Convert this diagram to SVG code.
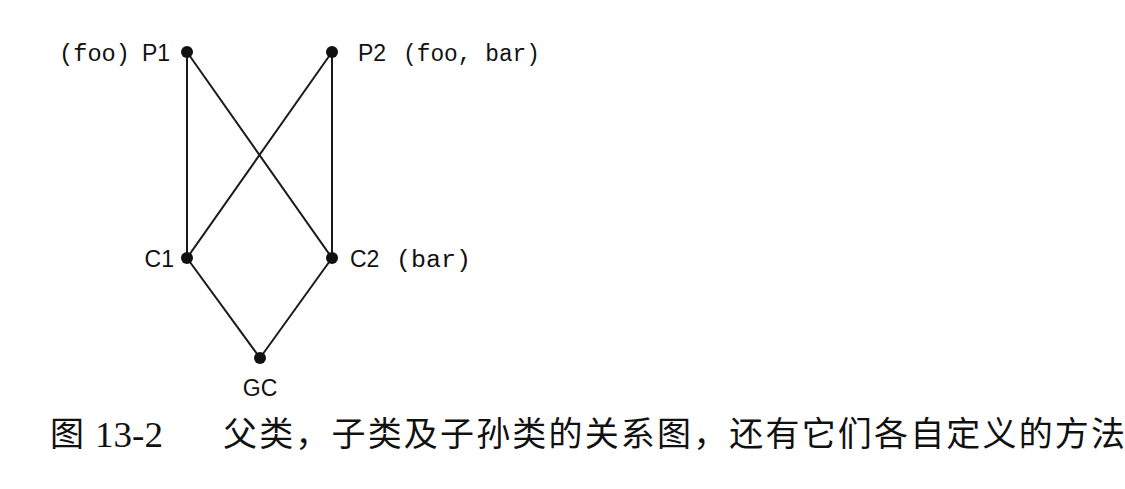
<svg xmlns="http://www.w3.org/2000/svg" width="1125" height="489" viewBox="0 0 1125 489">
<style>
.e{stroke:#1a1a1a;stroke-width:2;fill:none}
.d{fill:#111}
.a{font-family:"Liberation Sans",Arial,sans-serif;font-size:23px;fill:#111}
.m{font-family:"Liberation Mono","Courier New",monospace;font-size:23px;fill:#111}
.c{font-family:"Noto Sans CJK SC",sans-serif;font-size:34px;fill:#111}
.n{font-family:"Liberation Serif","Times New Roman",serif;font-size:36px;fill:#111}
</style>
<rect width="1125" height="489" fill="#fff"/>
<g id="connectors">
<line class="e" x1="187" y1="52" x2="187" y2="258"/>
<line class="e" x1="187" y1="52" x2="332" y2="258"/>
<line class="e" x1="332" y1="52" x2="332" y2="258"/>
<line class="e" x1="332" y1="52" x2="187" y2="258"/>
<line class="e" x1="187" y1="258" x2="260" y2="358"/>
<line class="e" x1="332" y1="258" x2="260" y2="358"/>
</g>
<g id="P1"><circle class="d" cx="187" cy="52" r="6"/><text y="61"><tspan class="m" x="59" textLength="71" lengthAdjust="spacingAndGlyphs">(foo)</tspan><tspan class="a" x="142">P1</tspan></text></g>
<g id="P2"><circle class="d" cx="332" cy="52" r="6"/><text y="61"><tspan class="a" x="358">P2</tspan><tspan class="m" x="403" textLength="137" lengthAdjust="spacingAndGlyphs">(foo, bar)</tspan></text></g>
<g id="C1"><circle class="d" cx="187" cy="258" r="6"/><text class="a" x="174" y="267" text-anchor="end">C1</text></g>
<g id="C2"><circle class="d" cx="332" cy="258" r="6"/><text y="267"><tspan class="a" x="350">C2</tspan><tspan class="m" x="396" textLength="75" lengthAdjust="spacingAndGlyphs">(bar)</tspan></text></g>
<g id="GC"><circle class="d" cx="260" cy="358" r="6"/><text class="a" x="260" y="396" text-anchor="middle">GC</text></g>
<g id="caption">
<text class="c" x="50" y="446">图</text>
<text class="n" x="95" y="447" textLength="68" lengthAdjust="spacingAndGlyphs">13-2</text>
<text class="c" x="223" y="446" textLength="902" lengthAdjust="spacing">父类，子类及子孙类的关系图，还有它们各自定义的方法</text>
</g>
</svg>
